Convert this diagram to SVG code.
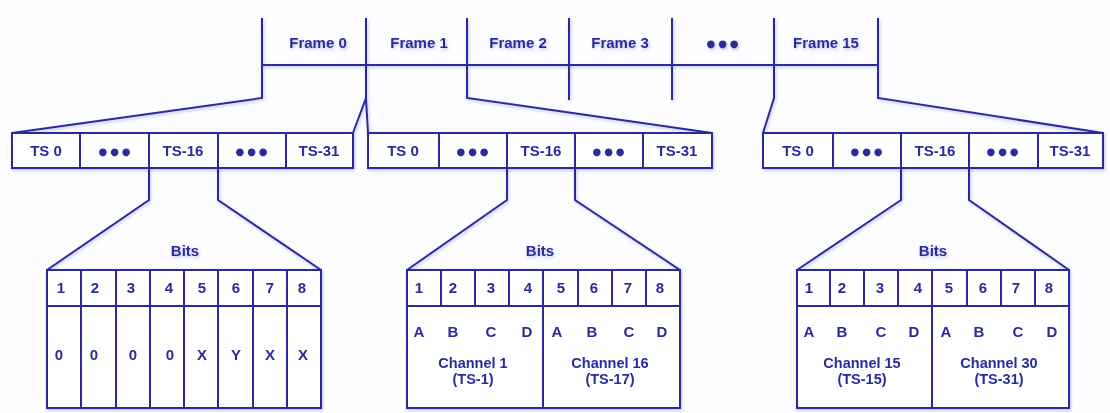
<svg xmlns="http://www.w3.org/2000/svg" width="1110" height="413" viewBox="0 0 1110 413">
<defs>
<filter id="halo" x="-2%" y="-5%" width="104%" height="110%">
<feDropShadow dx="1" dy="1.5" stdDeviation="1.6" flood-color="#7070d0" flood-opacity="0.45"/>
</filter>
<style>
.ln{fill:none;stroke:#2b2b9e;stroke-width:2;stroke-linejoin:miter}
.bx{fill:#ffffff;stroke:#2b2b9e;stroke-width:2}
text{font-family:"Liberation Sans",Arial,sans-serif;font-weight:bold;font-size:15px;fill:#2a2a9c;text-anchor:middle}
.dots{font-family:"DejaVu Sans",sans-serif;font-size:10px;letter-spacing:3px}
.ch{font-size:14.5px}
</style>
</defs>
<rect width="1110" height="413" fill="#fdfdff"/>
<g filter="url(#halo)">
<g id="frames">
<path class="ln" d="M262,65 H878 M262,18 V65 M366,18 V65 M467,18 V65 M569,18 V100 M672,18 V100 M774,18 V65 M878,18 V65"/>
<text x="318" y="48">Frame 0</text>
<text x="419" y="48">Frame 1</text>
<text x="518" y="48">Frame 2</text>
<text x="620" y="48">Frame 3</text>
<text class="dots" x="724" y="47">●●●</text>
<text x="826" y="48">Frame 15</text>
</g>
<g id="connectors">
<path class="ln" d="M262,65 V98 L12,133 M366,65 V98 L353,133 M366,98 L368,133 M467,65 V98 L712,133 M774,65 V98 L763,133 M878,65 V98 L1103,133"/>
<path class="ln" d="M149,168 V200 L47,270 M218,168 V200 L321,270 M507,168 V200 L407,270 M575,168 V200 L680,270 M901,168 V200 L797,270 M969,168 V200 L1069,270"/>
</g>
<g id="ts-row-0">
<rect class="bx" x="12" y="133" width="341" height="35"/>
<path class="ln" d="M80,133 V168 M149,133 V168 M218,133 V168 M286,133 V168"/>
<text x="46" y="156">TS 0</text>
<text class="dots" x="116" y="155">●●●</text>
<text x="183" y="156">TS-16</text>
<text class="dots" x="253" y="155">●●●</text>
<text x="319" y="156">TS-31</text>
</g>
<g id="ts-row-1">
<rect class="bx" x="368" y="133" width="344" height="35"/>
<path class="ln" d="M439,133 V168 M507,133 V168 M575,133 V168 M643,133 V168"/>
<text x="403" y="156">TS 0</text>
<text class="dots" x="474" y="155">●●●</text>
<text x="541" y="156">TS-16</text>
<text class="dots" x="610" y="155">●●●</text>
<text x="677" y="156">TS-31</text>
</g>
<g id="ts-row-15">
<rect class="bx" x="763" y="133" width="340" height="35"/>
<path class="ln" d="M833,133 V168 M901,133 V168 M969,133 V168 M1038,133 V168"/>
<text x="798" y="156">TS 0</text>
<text class="dots" x="868" y="155">●●●</text>
<text x="935" y="156">TS-16</text>
<text class="dots" x="1004" y="155">●●●</text>
<text x="1070" y="156">TS-31</text>
</g>
<g id="bits-frame-0">
<text x="185" y="256">Bits</text>
<rect class="bx" x="47" y="270" width="274" height="138"/>
<path class="ln" d="M47,306 H321 M81,270 V408 M116,270 V408 M150,270 V408 M184,270 V408 M218,270 V408 M253,270 V408 M287,270 V408"/>
<text x="61" y="293">1</text><text x="95" y="293">2</text><text x="131" y="293">3</text><text x="169" y="293">4</text>
<text x="202" y="293">5</text><text x="236" y="293">6</text><text x="270" y="293">7</text><text x="302" y="293">8</text>
<text x="59" y="360">0</text><text x="94" y="360">0</text><text x="133" y="360">0</text><text x="170" y="360">0</text>
<text x="202" y="360">X</text><text x="236" y="360">Y</text><text x="270" y="360">X</text><text x="303" y="360">X</text>
</g>
<g id="bits-frame-1">
<text x="540" y="256">Bits</text>
<rect class="bx" x="407" y="270" width="273" height="138"/>
<path class="ln" d="M407,306 H680 M441,270 V306 M475,270 V306 M509,270 V306 M543,270 V408 M578,270 V306 M612,270 V306 M646,270 V306"/>
<text x="419" y="293">1</text><text x="453" y="293">2</text><text x="491" y="293">3</text><text x="528" y="293">4</text>
<text x="561" y="293">5</text><text x="594" y="293">6</text><text x="628" y="293">7</text><text x="660" y="293">8</text>
<text x="419" y="337">A</text><text x="453" y="337">B</text><text x="491" y="337">C</text><text x="527" y="337">D</text>
<text x="557" y="337">A</text><text x="592" y="337">B</text><text x="629" y="337">C</text><text x="662" y="337">D</text>
<text class="ch" x="473" y="368">Channel 1</text><text class="ch" x="473" y="384">(TS-1)</text>
<text class="ch" x="610" y="368">Channel 16</text><text class="ch" x="610" y="384">(TS-17)</text>
</g>
<g id="bits-frame-15">
<text x="933" y="256">Bits</text>
<rect class="bx" x="797" y="270" width="272" height="138"/>
<path class="ln" d="M797,306 H1069 M830,270 V306 M864,270 V306 M898,270 V306 M932,270 V408 M967,270 V306 M1001,270 V306 M1035,270 V306"/>
<text x="809" y="293">1</text><text x="842" y="293">2</text><text x="880" y="293">3</text><text x="918" y="293">4</text>
<text x="949" y="293">5</text><text x="983" y="293">6</text><text x="1016" y="293">7</text><text x="1049" y="293">8</text>
<text x="809" y="337">A</text><text x="842" y="337">B</text><text x="881" y="337">C</text><text x="914" y="337">D</text>
<text x="946" y="337">A</text><text x="979" y="337">B</text><text x="1018" y="337">C</text><text x="1052" y="337">D</text>
<text class="ch" x="862" y="368">Channel 15</text><text class="ch" x="862" y="384">(TS-15)</text>
<text class="ch" x="999" y="368">Channel 30</text><text class="ch" x="999" y="384">(TS-31)</text>
</g>
</g>
</svg>
